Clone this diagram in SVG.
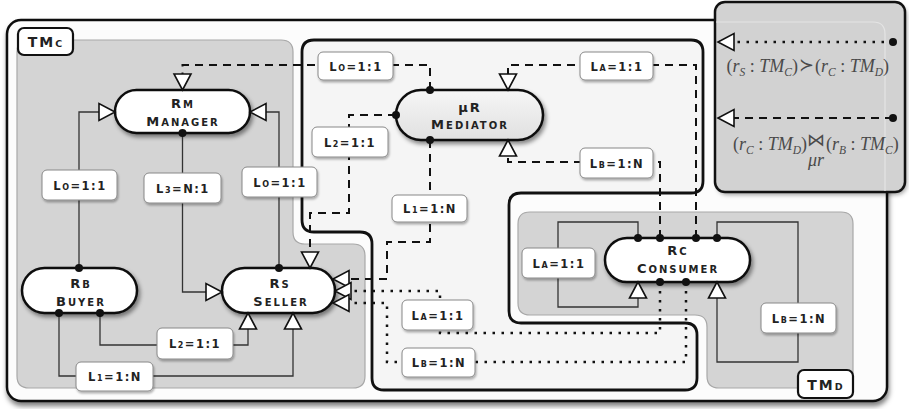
<svg xmlns="http://www.w3.org/2000/svg" width="909" height="409" viewBox="0 0 909 409">
<defs>
<filter id="sh" x="-20%" y="-20%" width="150%" height="170%"><feDropShadow dx="2" dy="3" stdDeviation="2" flood-color="#000" flood-opacity="0.45"/></filter>
<filter id="shs" x="-20%" y="-30%" width="150%" height="180%"><feDropShadow dx="1" dy="2" stdDeviation="1.2" flood-color="#000" flood-opacity="0.3"/></filter>
<filter id="shf" x="-5%" y="-5%" width="110%" height="115%"><feDropShadow dx="1" dy="4" stdDeviation="2.5" flood-color="#000" flood-opacity="0.5"/></filter>
<filter id="blur" x="-10%" y="-10%" width="120%" height="120%"><feGaussianBlur stdDeviation="2"/></filter>
<linearGradient id="medg" x1="0" y1="0" x2="0" y2="1"><stop offset="0" stop-color="#f6f6f6"/><stop offset="1" stop-color="#e0e0e0"/></linearGradient>
<marker id="tri" markerUnits="userSpaceOnUse" markerWidth="26" markerHeight="26" viewBox="-20 -13 26 26" refX="0" refY="0" orient="auto" overflow="visible"><path d="M0,0 L-16,-8.5 L-16,8.5 Z" fill="#fff" stroke="#111" stroke-width="1.6"/></marker>
<marker id="dot" markerUnits="userSpaceOnUse" markerWidth="12" markerHeight="12" viewBox="-6 -6 12 12" refX="0" refY="0" overflow="visible"><circle r="4" fill="#111"/></marker>
<style>
.node{fill:#fff;stroke:#111;stroke-width:2.5;filter:url(#sh)}
.nt{font-family:"DejaVu Sans",sans-serif;font-weight:bold;fill:#222;text-anchor:middle;letter-spacing:2px}
.b{font-size:13px}
.s{font-size:10px}
.lbox{fill:#fff;stroke:#888;stroke-width:1;filter:url(#shs)}
.lt{font-family:"DejaVu Sans",sans-serif;font-weight:bold;font-size:11.5px;fill:#222;text-anchor:middle;letter-spacing:1.5px}
.ls{font-size:8px}
.solid{fill:none;stroke:#333;stroke-width:1.3}
.dash{fill:none;stroke:#111;stroke-width:2;stroke-dasharray:8 6}
.dotted{fill:none;stroke:#111;stroke-width:2.5;stroke-dasharray:2.5 6.5}
.st{marker-start:url(#dot)}
.en{marker-end:url(#tri)}
.region{fill:#d4d4d4;stroke:#a8a8a8;stroke-width:1.2}
.tag{fill:#fff;stroke:#111;stroke-width:2.2}
.math{font-family:"Liberation Serif","DejaVu Serif",serif;font-size:18px;fill:#4a4a4a}
.mi{font-style:italic}
.sub{font-size:11.5px;font-style:italic}
</style>
</defs>

<!-- outer frame -->
<rect id="frame" x="7" y="20" width="880" height="381" rx="14" fill="#fcfcfc" stroke="#111" stroke-width="2.5" filter="url(#shf)"/>

<!-- TMc region -->
<g id="tmc">
<path class="region" d="M29,40 H281 Q293,40 293,52 V232 Q293,244 305,244 H353 Q365,244 365,256 V376 Q365,388 353,388 H29 Q17,388 17,376 V52 Q17,40 29,40 Z"/>
<rect class="tag" x="18" y="28" width="55" height="27" rx="6"/>
<text class="nt" x="46" y="47" letter-spacing="1"><tspan font-size="14">TM</tspan><tspan font-size="9.5">C</tspan></text>
</g>

<!-- Mediator region -->
<path id="mediator-region" d="M314,40 H691 Q703,40 703,52 V181 Q703,193 691,193 H521 Q509,193 509,205 V311 Q509,323 521,323 H685 Q697,323 697,335 V378 Q697,390 685,390 H384 Q372,390 372,378 V244 Q372,232 360,232 H314 Q302,232 302,220 V52 Q302,40 314,40 Z" fill="#f5f5f5" stroke="#111" stroke-width="2.8"/>

<!-- TMd region -->
<g id="tmd">
<path class="region" d="M530,212 H841 Q853,212 853,224 V376 Q853,388 841,388 H719 Q707,388 707,376 V327 Q707,315 695,315 H530 Q518,315 518,303 V224 Q518,212 530,212 Z"/>
<rect class="tag" x="798" y="370" width="55" height="28" rx="6"/>
<text class="nt" x="826" y="390" letter-spacing="1"><tspan font-size="14">TM</tspan><tspan font-size="9.5">D</tspan></text>
</g>

<!-- nodes -->
<g id="manager">
<rect class="node" x="115" y="90" width="135" height="43" rx="21.5"/>
<text class="nt" x="183" y="108"><tspan class="b">R</tspan><tspan class="s">M</tspan></text>
<text class="nt" x="183" y="126"><tspan class="b">M</tspan><tspan class="s">ANAGER</tspan></text>
</g>
<g id="mediator">
<rect x="396" y="90" width="147" height="50" rx="25" fill="url(#medg)" stroke="#111" stroke-width="2.5" filter="url(#sh)"/>
<text class="nt" x="470" y="112"><tspan class="b">μR</tspan></text>
<text class="nt" x="470" y="129"><tspan class="b">M</tspan><tspan class="s">EDIATOR</tspan></text>
</g>
<g id="buyer">
<rect class="node" x="22" y="268" width="115" height="45" rx="22.5"/>
<text class="nt" x="81" y="288"><tspan class="b">R</tspan><tspan class="s">B</tspan></text>
<text class="nt" x="81" y="306"><tspan class="b">B</tspan><tspan class="s">UYER</tspan></text>
</g>
<g id="seller">
<rect class="node" x="222" y="268" width="113" height="45" rx="22.5"/>
<text class="nt" x="280" y="288"><tspan class="b">R</tspan><tspan class="s">S</tspan></text>
<text class="nt" x="281" y="306"><tspan class="b">S</tspan><tspan class="s">ELLER</tspan></text>
</g>
<g id="consumer">
<rect class="node" x="605" y="238" width="145" height="44" rx="22"/>
<text class="nt" x="678" y="255"><tspan class="b">R</tspan><tspan class="s">C</tspan></text>
<text class="nt" x="678" y="273"><tspan class="b">C</tspan><tspan class="s">ONSUMER</tspan></text>
</g>

<!-- connectors -->
<g id="connectors">
<path class="solid st en" d="M79,268 V112 H115"/>
<path class="solid st en" d="M182.5,133 V292 H222"/>
<path class="solid st en" d="M279,268 V112 H250"/>
<path class="solid st en" d="M100,313 V345 H248 V313"/>
<path class="solid st en" d="M59,313 V376 H293 V313"/>
<path class="dash st en" d="M430,90 V65 H182.5 V90"/>
<path class="dash st en" d="M696,238 V65 H508 V90"/>
<path class="dash st en" d="M660,238 V162 H508 V140"/>
<path class="dash st en" d="M396,115 H349 V213 H310 V268"/>
<path class="dash st en" d="M430,140 V242 H387 V279 H333"/>
<path class="dotted st en" d="M660,282 V333 H440 V291 H335"/>
<path class="dotted st en" d="M686,282 V362 H387 V303 H333"/>
<path class="solid st en" d="M638,238 V222 H558 V307 H638 V282"/>
<path class="solid st en" d="M717,238 V222 H798 V362 H717 V282"/>
</g>

<!-- connector labels -->
<g id="edge-labels">
<rect class="lbox" x="42" y="170" width="75" height="30" rx="5"/><text class="lt" x="80" y="190">L<tspan class="ls">O</tspan>=1:1</text>
<rect class="lbox" x="144" y="173" width="77" height="30" rx="5"/><text class="lt" x="183" y="193">L<tspan class="ls">3</tspan>=N:1</text>
<rect class="lbox" x="242" y="167" width="75" height="30" rx="5"/><text class="lt" x="280" y="187">L<tspan class="ls">O</tspan>=1:1</text>
<rect class="lbox" x="157" y="328" width="76" height="31" rx="5"/><text class="lt" x="195" y="348">L<tspan class="ls">2</tspan>=1:1</text>
<rect class="lbox" x="76" y="362" width="77" height="29" rx="5"/><text class="lt" x="115" y="381">L<tspan class="ls">1</tspan>=1:N</text>
<rect class="lbox" x="318" y="52" width="75" height="28" rx="5"/><text class="lt" x="356" y="71">L<tspan class="ls">O</tspan>=1:1</text>
<rect class="lbox" x="580" y="52" width="73" height="28" rx="5"/><text class="lt" x="617" y="71">L<tspan class="ls">A</tspan>=1:1</text>
<rect class="lbox" x="580" y="148" width="73" height="30" rx="5"/><text class="lt" x="617" y="168">L<tspan class="ls">B</tspan>=1:N</text>
<rect class="lbox" x="312" y="127" width="76" height="30" rx="5"/><text class="lt" x="350" y="147">L<tspan class="ls">2</tspan>=1:1</text>
<rect class="lbox" x="392" y="195" width="75" height="27" rx="5"/><text class="lt" x="430" y="213">L<tspan class="ls">1</tspan>=1:N</text>
<rect class="lbox" x="402" y="300" width="71" height="30" rx="5"/><text class="lt" x="438" y="320">L<tspan class="ls">A</tspan>=1:1</text>
<rect class="lbox" x="402" y="348" width="73" height="29" rx="5"/><text class="lt" x="439" y="367">L<tspan class="ls">B</tspan>=1:N</text>
<rect class="lbox" x="522" y="248" width="73" height="30" rx="5"/><text class="lt" x="559" y="268">L<tspan class="ls">A</tspan>=1:1</text>
<rect class="lbox" x="761" y="303" width="75" height="30" rx="5"/><text class="lt" x="799" y="323">L<tspan class="ls">B</tspan>=1:N</text>
</g>

<!-- legend -->
<g id="legend">
<rect x="717" y="5" width="190" height="190" rx="10" fill="#000" fill-opacity="0.35" filter="url(#blur)"/>
<rect x="715" y="2" width="190" height="190" rx="10" fill="#d2d2d2" stroke="#111" stroke-width="2.5"/>
<path d="M716,22 H873 Q885,22 885,34 V191" fill="none" stroke="#e4e4e4" stroke-width="1.2"/>
<path class="dotted st en" d="M893,42 H718"/>
<path class="dash st en" d="M893,118 H718"/>
<text class="math" x="798" y="72" text-anchor="end">(<tspan class="mi">r</tspan><tspan class="sub" dy="4">S</tspan><tspan dy="-4"> : </tspan><tspan class="mi">TM</tspan><tspan class="sub" dy="4">C</tspan><tspan dy="-4">)</tspan></text>
<text class="math" x="806" y="71" text-anchor="middle" font-size="14">≻</text>
<text class="math" x="815" y="72">(<tspan class="mi">r</tspan><tspan class="sub" dy="4">C</tspan><tspan dy="-4"> : </tspan><tspan class="mi">TM</tspan><tspan class="sub" dy="4">D</tspan><tspan dy="-4">)</tspan></text>
<text class="math" x="807" y="150" text-anchor="end">(<tspan class="mi">r</tspan><tspan class="sub" dy="4">C</tspan><tspan dy="-4"> : </tspan><tspan class="mi">TM</tspan><tspan class="sub" dy="4">D</tspan><tspan dy="-4">)</tspan></text>
<text class="math" x="816" y="146" text-anchor="middle" font-size="12">⋈</text>
<text class="math" x="816" y="166" text-anchor="middle" font-size="9" font-style="italic">μr</text>
<text class="math" x="826" y="150">(<tspan class="mi">r</tspan><tspan class="sub" dy="4">B</tspan><tspan dy="-4"> : </tspan><tspan class="mi">TM</tspan><tspan class="sub" dy="4">C</tspan><tspan dy="-4">)</tspan></text>
</g>
</svg>
